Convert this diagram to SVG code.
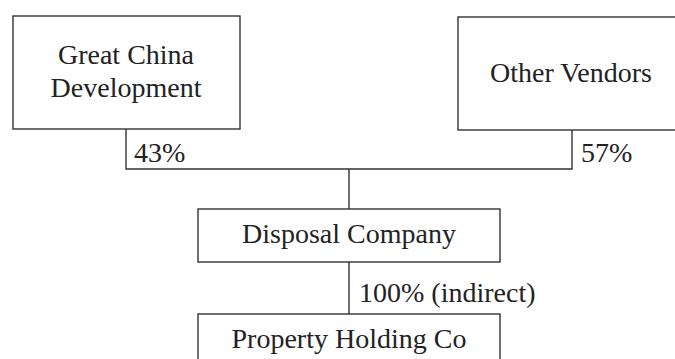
<svg xmlns="http://www.w3.org/2000/svg" width="675" height="359" viewBox="0 0 675 359">
<style>
.box{fill:#fff;stroke:#333;stroke-width:1.4}
.ln{fill:none;stroke:#333;stroke-width:1.4}
text{font-family:"Liberation Serif","Times New Roman",serif;font-size:28px;fill:#222}
.c{text-anchor:middle}
</style>
<rect width="675" height="359" fill="#fff"/>
<g id="connectors">
<polyline class="ln" points="126,129 126,169 572,169 572,130"/>
<line class="ln" x1="349" y1="169" x2="349" y2="209"/>
<line class="ln" x1="349" y1="262" x2="349" y2="314"/>
<text x="134" y="162">43%</text>
<text x="581" y="162">57%</text>
<text x="359" y="302">100% (indirect)</text>
</g>
<g id="great-china">
<rect class="box" x="13" y="16" width="227" height="113"/>
<text class="c" x="126" y="64">Great China</text>
<text class="c" x="126" y="97">Development</text>
</g>
<g id="other-vendors">
<rect class="box" x="458" y="17" width="227" height="113"/>
<text class="c" x="571" y="82">Other Vendors</text>
</g>
<g id="disposal-company">
<rect class="box" x="198" y="209" width="302" height="53"/>
<text class="c" x="349" y="243">Disposal Company</text>
</g>
<g id="property-holding">
<rect class="box" x="198" y="314" width="302" height="60"/>
<text class="c" x="349" y="348">Property Holding Co</text>
</g>
</svg>
